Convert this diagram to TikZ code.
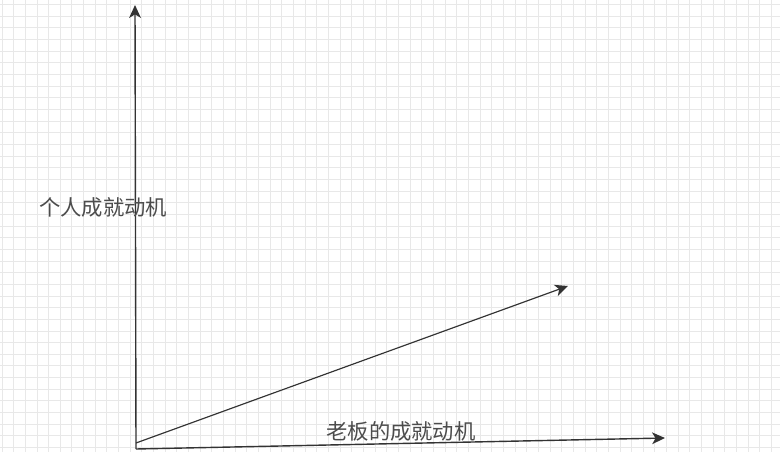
\documentclass[tikz,border=0pt]{standalone}
\usepackage{fontspec}
\usepackage{tikz}
\usetikzlibrary{arrows.meta}
\newfontfamily\cjk{Noto Sans CJK SC}
\definecolor{gridgray}{gray}{0.91}
\definecolor{axisgray}{gray}{0.2}
\definecolor{textgray}{gray}{0.3}

\begin{document}
\begin{tikzpicture}[x=0.03cm, y=-0.03cm]

  \useasboundingbox (0, 0) rectangle (780, 452);
  
  \foreach \x in { 2, 13.66, ..., 780 } {
    \draw[gridgray, line width=0.8] (\x, 0) -- (\x, 452);
  }
    
  \foreach \y in { 4.5, 16.16, ..., 452 } {
    \draw[gridgray, line width=0.8] (0, \y) -- (780, \y);
  }
  
  \coordinate (origin) at (136, 449);
  \coordinate (ytip) at (135, 5);
  \coordinate (xtip) at (665, 438);
  \coordinate (dstart) at (136, 443);
  \coordinate (dtip) at (568, 286);

  \draw[axisgray, -{Stealth[length=11pt, width=10pt, inset=3pt]}, line width=1.2] (origin) -- (ytip);
  \draw[axisgray, -{Stealth[length=11pt, width=10pt, inset=3pt]}, line width=1.2] (origin) -- (xtip);
  \draw[axisgray, -{Stealth[length=11pt, width=10pt, inset=3pt]}, line width=1.0] (dstart) -- (dtip);

  \node[textgray, font=\cjk\fontsize{18.2pt}{20pt}\selectfont] (ylabel) at (103, 207) { 个人成就动机 };
  \node[textgray, font=\cjk\fontsize{18.2pt}{20pt}\selectfont] (xlabel) at (401, 431) { 老板的成就动机 };
    
\end{tikzpicture}
\end{document}
